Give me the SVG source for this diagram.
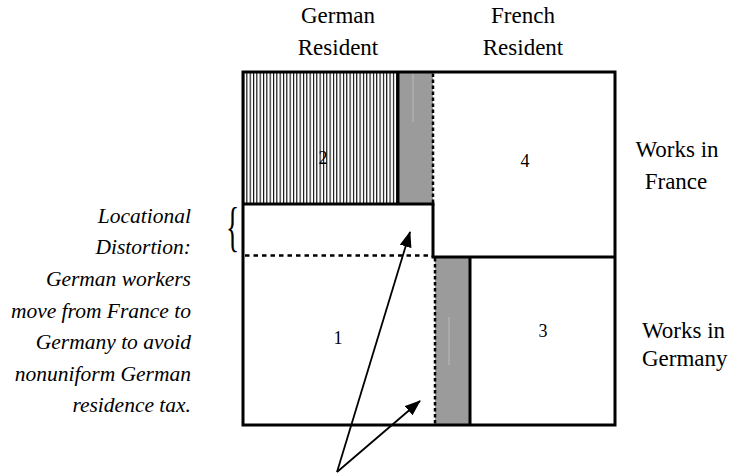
<svg xmlns="http://www.w3.org/2000/svg" width="732" height="475" viewBox="0 0 732 475">
<defs>
<pattern id="hatch" patternUnits="userSpaceOnUse" x="243" y="0" width="3.33" height="10"><rect width="3.33" height="10" fill="#fff"/><rect width="1.1" height="10" fill="#000"/></pattern>
<marker id="ah" markerUnits="userSpaceOnUse" markerWidth="16" markerHeight="12" refX="15" refY="6" orient="auto"><path d="M0,0 L16,6 L0,12 Z" fill="#000"/></marker>
</defs>
<style>
text{font-family:"Liberation Serif","Times New Roman",serif;fill:#000}
.lbl{font-size:23px;text-anchor:middle}
.num{font-size:18px;text-anchor:middle}
.note{font-size:21.5px;font-style:italic;text-anchor:end}
.brace{font-size:55px}
.solid{stroke:#000;stroke-width:3;fill:none}
.dot{stroke:#000;stroke-width:2.5;fill:none;stroke-dasharray:3.5 2.5}
.doth{stroke:#000;stroke-width:2.5;fill:none;stroke-dasharray:4.5 4}
.gray{fill:#9b9b9b}
.faint{stroke:#c4c4c4;stroke-width:0.8}
.arrow{stroke:#000;stroke-width:1.8;fill:none;marker-end:url(#ah)}
</style>
<rect width="732" height="475" fill="#fff"/>
<g id="headers">
<text class="lbl" x="338" y="23">German</text>
<text class="lbl" x="338" y="55">Resident</text>
<text class="lbl" x="523" y="23">French</text>
<text class="lbl" x="523" y="55">Resident</text>
</g>
<g id="row-labels">
<text class="lbl" x="677" y="157">Works in</text>
<text class="lbl" x="676" y="189">France</text>
<text class="lbl" x="642" y="338" style="text-anchor:start">Works in</text>
<text class="lbl" x="642" y="366" style="text-anchor:start">Germany</text>
</g>
<g id="note">
<text class="note" x="191" y="223">Locational</text>
<text class="note" x="191" y="254">Distortion:</text>
<text class="note" x="191" y="286">German workers</text>
<text class="note" x="191" y="318">move from France to</text>
<text class="note" x="191" y="349">Germany to avoid</text>
<text class="note" x="191" y="381">nonuniform German</text>
<text class="note" x="191" y="412">residence tax.</text>
<text class="brace" x="0" y="0" transform="translate(226,245) scale(0.5,1)">{</text>
</g>
<g id="region-2">
<rect x="243" y="72" width="155" height="132" fill="url(#hatch)"/>
<text class="num" x="323" y="164">2</text>
</g>
<g id="shift-top">
<rect class="gray" x="398" y="72" width="35" height="132"/>
<line class="faint" x1="413" y1="73" x2="413" y2="122"/>
</g>
<g id="region-4">
<text class="num" x="525" y="167">4</text>
</g>
<g id="region-1">
<text class="num" x="338" y="344">1</text>
</g>
<g id="shift-bottom">
<rect class="gray" x="435" y="257" width="35" height="168"/>
<line class="faint" x1="449" y1="317" x2="449" y2="365"/>
</g>
<g id="region-3">
<text class="num" x="543" y="337">3</text>
</g>
<g id="connectors">
<rect class="solid" x="243" y="72" width="372" height="353"/>
<line class="solid" x1="398" y1="72" x2="398" y2="204"/>
<line class="solid" x1="243" y1="204" x2="434.5" y2="204"/>
<line class="solid" x1="433" y1="204" x2="433" y2="257"/>
<line class="solid" x1="431.5" y1="257" x2="615" y2="257"/>
<line class="solid" x1="470" y1="257" x2="470" y2="425"/>
<line class="dot" x1="433" y1="73.5" x2="433" y2="203"/>
<line class="dot" x1="435" y1="258" x2="435" y2="424"/>
<line class="doth" x1="245" y1="255.5" x2="433" y2="255.5"/>
<line class="arrow" x1="337" y1="472" x2="410" y2="232"/>
<line class="arrow" x1="337" y1="472" x2="420" y2="401"/>
</g>
</svg>
